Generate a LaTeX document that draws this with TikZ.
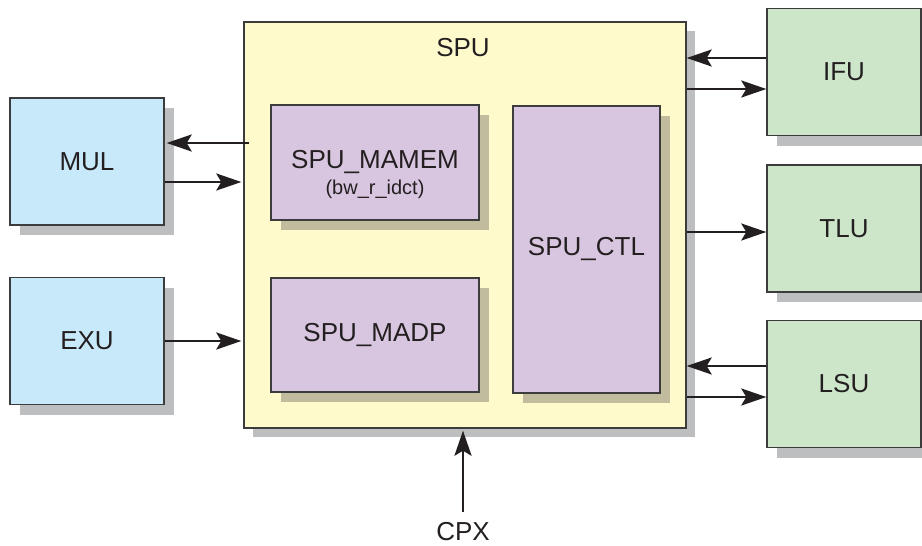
\documentclass[tikz,border=0pt]{standalone}
\usepackage{fontspec}
\setmainfont{Liberation Sans}
\usetikzlibrary{arrows.meta,shadows,calc}

\definecolor{spuyellow}{HTML}{FFFACC}
\definecolor{subpurple}{HTML}{D8C6E0}
\definecolor{mulblue}{HTML}{C7E9F9}
\definecolor{ifugreen}{HTML}{CDE5C9}
\definecolor{shadegray}{HTML}{BDBEC0}
\definecolor{subshade}{HTML}{C0BC9D}
\definecolor{edgegray}{HTML}{3C3C3C}
\definecolor{inkblack}{HTML}{231F20}

\begin{document}
\begin{tikzpicture}[x=0.5pt, y=-0.5pt, font=\fontsize{13}{15}\selectfont,
        block/.style={draw=edgegray, line width=0.7pt, inner sep=0pt, text=inkblack},
        unit/.style={block, minimum width=77pt, minimum height=63.5pt,
            general shadow={fill=shadegray, shadow xshift=5pt, shadow yshift=-5pt}},
        sub/.style={block, fill=subpurple,
            general shadow={fill=subshade, shadow xshift=5pt, shadow yshift=-5pt}},
        link/.style={-{Stealth[length=12.5pt,width=8.5pt,inset=2.5pt]}, line width=1.3pt, draw=inkblack}]
        \useasboundingbox (0,0) rectangle (922,546);

        % Nodes
        \node[block, fill=spuyellow, minimum width=221pt, minimum height=203pt,
            general shadow={fill=shadegray, shadow xshift=4.5pt, shadow yshift=-4.5pt}] (spu) at (465,225) {};
        \node[text=inkblack] (spulabel) at (463,48) {SPU};
        \node[sub, minimum width=104pt, minimum height=57.5pt,
            label={[yshift=-13.5pt, font=\fontsize{10}{12}\selectfont, text=inkblack]center:(bw\_r\_idct)}] (mamem) at (375,162.5) {SPU\_MAMEM};
        \node[sub, minimum width=104pt, minimum height=57pt] (madp) at (375,335) {SPU\_MADP};
        \node[sub, minimum width=73.5pt, minimum height=143.5pt] (ctl) at (586.5,249.5) {SPU\_CTL};

        \node[unit, fill=mulblue] (mul) at (87,161.5) {MUL};
        \node[unit, fill=mulblue] (exu) at (87,341) {EXU};
        \node[unit, fill=ifugreen] (ifu) at (844,72) {IFU};
        \node[unit, fill=ifugreen] (tlu) at (844,228.5) {TLU};
        \node[unit, fill=ifugreen] (lsu) at (844,384) {LSU};
        \node[inner sep=5pt, text=inkblack] (cpx) at (463,532) {CPX};

        % Arrows
        \draw[link] ($(spu.west |- mul.east)+(6,-18.5)$) -- ($(mul.east)+(2,-18.5)$);
        \draw[link] ($(mul.east)+(0,20.5)$) -- ($(spu.west |- mul.east)+(-2,20.5)$);
        \draw[link] (exu.east) -- ([xshift=-1pt]exu.east -| spu.west);
        \draw[link] ($(ifu.west)+(0,-14)$) -- ($(spu.east |- ifu.west)+(0,-14)$);
        \draw[link] ($(spu.east |- ifu.west)+(0,17)$) -- ($(ifu.west)+(0,17)$);
        \draw[link] ($(spu.east |- tlu.west)+(0,3.5)$) -- ($(tlu.west)+(0,3.5)$);
        \draw[link] ($(lsu.west)+(0,-18)$) -- ($(spu.east |- lsu.west)+(0,-18)$);
        \draw[link] ($(spu.east |- lsu.west)+(0,13)$) -- ($(lsu.west)+(0,13)$);
        \draw[link] (cpx.north) -- ([yshift=-1pt]cpx.north |- spu.south);
    \end{tikzpicture}
\end{document}
